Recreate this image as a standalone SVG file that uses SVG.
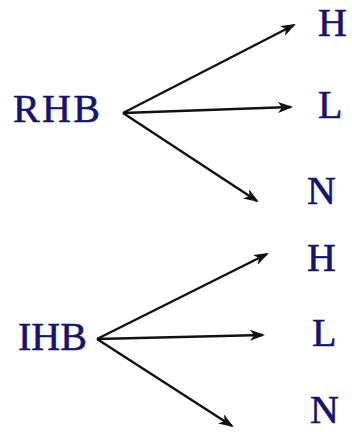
<svg xmlns="http://www.w3.org/2000/svg" width="352" height="432" viewBox="0 0 352 432">
<style>
.t{font-family:"Liberation Serif","Times New Roman",serif;font-size:40px;fill:#15156b;stroke:#15156b;stroke-width:0.6}
.c line{stroke:#111;stroke-width:2.4;fill:none}
</style>
<defs>
<marker id="ah" viewBox="0 0 15 11" refX="13" refY="5.5" markerWidth="15" markerHeight="11" markerUnits="userSpaceOnUse" orient="auto">
<path d="M0,0 L15,5.5 L0,11 L4,5.5 z" fill="#111"/>
</marker>
</defs>
<rect width="352" height="432" fill="#fff"/>
<g class="c">
<line x1="123" y1="113" x2="294" y2="25" marker-end="url(#ah)"/>
<line x1="123" y1="113" x2="291" y2="107" marker-end="url(#ah)"/>
<line x1="123" y1="113" x2="257" y2="201" marker-end="url(#ah)"/>
<line x1="97" y1="339" x2="267" y2="254" marker-end="url(#ah)"/>
<line x1="97" y1="339" x2="263" y2="335" marker-end="url(#ah)"/>
<line x1="97" y1="339" x2="232" y2="426" marker-end="url(#ah)"/>
</g>
<g id="RHB"><text class="t" x="13" y="122" textLength="87">RHB</text></g>
<g id="H1"><text class="t" x="318" y="36">H</text></g>
<g id="L1"><text class="t" x="318" y="118">L</text></g>
<g id="N1"><text class="t" x="307" y="204">N</text></g>
<g id="IHB"><text class="t" x="18" y="350">IHB</text></g>
<g id="H2"><text class="t" x="307" y="271">H</text></g>
<g id="L2"><text class="t" x="312" y="346">L</text></g>
<g id="N2"><text class="t" x="310" y="423">N</text></g>
</svg>
